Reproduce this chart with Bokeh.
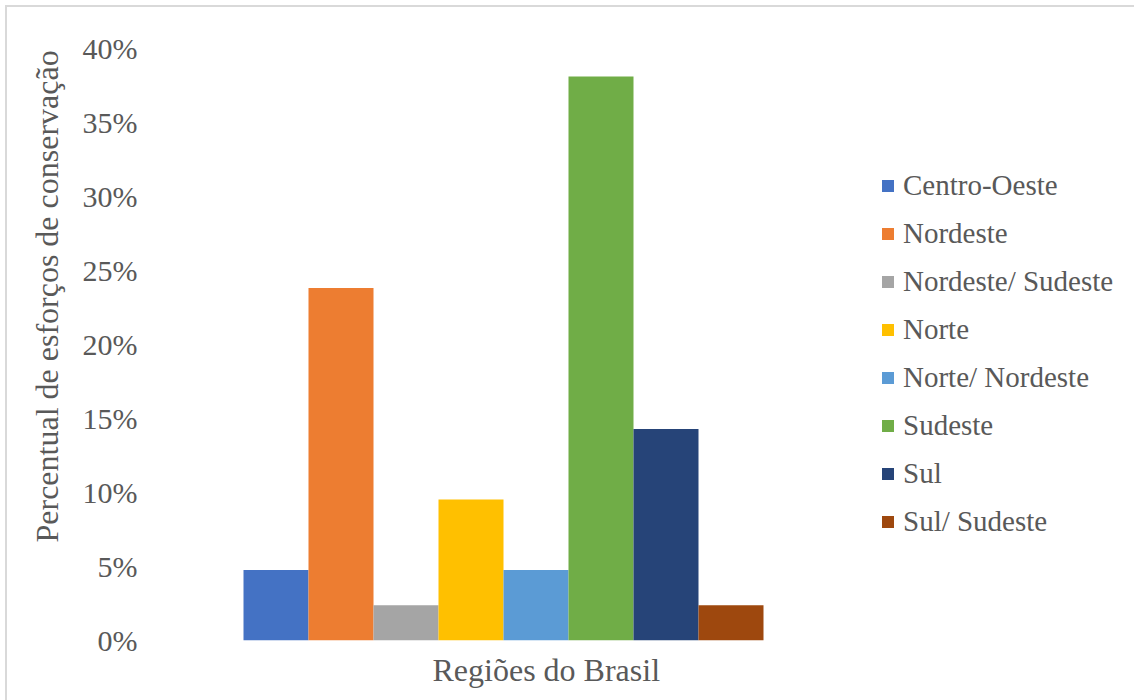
import numpy as np
from bokeh.plotting import figure
from bokeh.models import (Range1d, FixedTicker, NumeralTickFormatter, Legend,
                          LegendItem, Title)
from bokeh.embed import file_html
from bokeh.resources import INLINE

categories = ["Centro-Oeste", "Nordeste", "Nordeste/ Sudeste", "Norte",
              "Norte/ Nordeste", "Sudeste", "Sul", "Sul/ Sudeste"]
values = [0.0476, 0.2381, 0.0238, 0.0952, 0.0476, 0.3810, 0.1429, 0.0238]
colors = ["#4472C4", "#ED7D31", "#A5A5A5", "#FFC000",
          "#5B9BD5", "#70AD47", "#264478", "#9E480E"]
y_ticks = [0.0, 0.05, 0.10, 0.15, 0.20, 0.25, 0.30, 0.35, 0.40]
x_title = "Regiões do Brasil"
y_title = "Percentual de esforços de conservação"

FONT = "'Liberation Serif', 'Times New Roman', serif"
TXT = "#595959"

W, H = 1134, 700
L, T, B = 165, 48, 60
frame_w = W - L
px_per_unit = 65.0
x_start = -0.5 - (243 - L) / px_per_unit
x_end = x_start + frame_w / px_per_unit
y_max = 0.40

p = figure(width=W, height=H, output_backend="svg", toolbar_location=None,
           x_range=Range1d(x_start, x_end), y_range=Range1d(0, y_max),
           min_border_left=L, min_border_right=0, min_border_top=T,
           min_border_bottom=B)
p.border_fill_color = None
p.background_fill_color = None
p.outline_line_color = None
p.grid.visible = False
p.styles = {
    "background-color": "white",
    "background-image": "linear-gradient(#d9d9d9,#d9d9d9), linear-gradient(#d9d9d9,#d9d9d9)",
    "background-size": "2px 100%, 100% 2px",
    "background-position": "5px 5px, 5px 5px",
    "background-repeat": "no-repeat",
}

xs = np.arange(len(categories))
items = []
for i in range(len(categories)):
    r = p.vbar(x=[xs[i]], top=[values[i]], width=1.0, bottom=0,
               fill_color=colors[i], line_color=None)
    items.append(LegendItem(label=categories[i], renderers=[r]))

p.xaxis.visible = False
yax = p.yaxis[0]
yax.ticker = FixedTicker(ticks=y_ticks)
yax.formatter = NumeralTickFormatter(format="0%")
yax.axis_line_color = None
yax.major_tick_line_color = None
yax.minor_tick_line_color = None
yax.major_label_text_font = FONT
yax.major_label_text_font_size = "30px"
yax.major_label_text_color = TXT
yax.major_label_standoff = 22

legend = Legend(items=items, location=(715, 102))
legend.label_text_font = FONT
legend.label_text_font_size = "29px"
legend.label_text_color = TXT
legend.glyph_width = 15
legend.glyph_height = 15
legend.label_height = 33
legend.spacing = 15
legend.padding = 0
legend.margin = 0
legend.label_standoff = 8
legend.border_line_color = None
legend.background_fill_color = None
p.add_layout(legend)

xt = Title(text=x_title, align="left", offset=432 - L, vertical_align="middle",
           text_font=FONT, text_font_size="32px", text_color=TXT,
           text_font_style="normal", standoff=21)
p.add_layout(xt, "below")
yt = Title(text=y_title, align="left", offset=(H - B) - 542, vertical_align="top",
           text_font=FONT, text_font_size="32px", text_color=TXT,
           text_font_style="normal", standoff=26)
p.add_layout(yt, "left")

open("out.html", "w").write(file_html(p, INLINE))
